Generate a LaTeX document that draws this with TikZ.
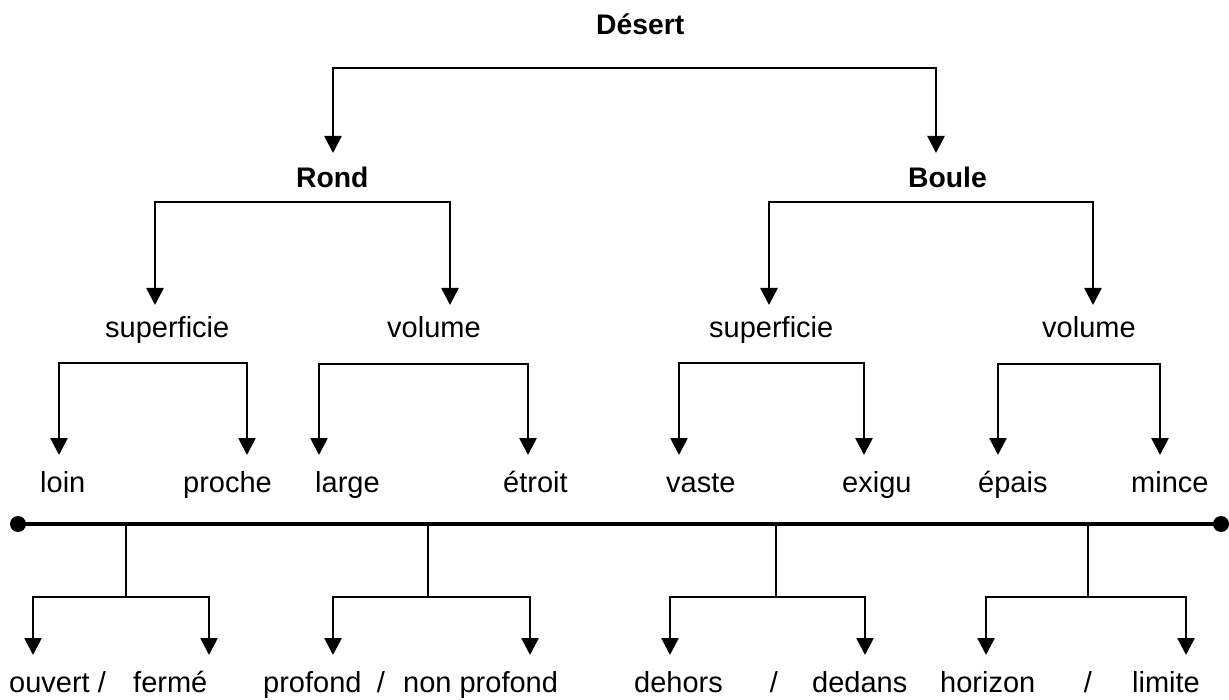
\documentclass[tikz,border=0pt]{standalone}
\usepackage{fontspec}
\setmainfont{Liberation Sans}
\usetikzlibrary{arrows.meta}
\begin{document}
\begin{tikzpicture}[x=1pt,y=-1pt,
  lbl/.style={anchor=base west,inner sep=0pt,font=\fontsize{29}{34}\selectfont},
  slash/.style={anchor=base,inner sep=0pt,font=\fontsize{29}{34}\selectfont},
  bold/.style={anchor=base west,inner sep=0pt,font=\fontsize{28.3}{34}\selectfont\bfseries},
  arr/.style={line width=2.6pt,-{Triangle[width=17pt,length=17pt]}},
  drop/.style={line width=2.5pt},
  axis/.style={line width=4.5pt},
  dot/.style={circle,fill=black,inner sep=0pt,minimum size=16pt}]
\useasboundingbox (0,0) rectangle (1229,700);

% level 0-2 labels
\node[bold] (desert) at (596,35) {Désert};
\node[bold] (rond) at (296,188) {Rond};
\node[bold] (boule) at (908,188) {Boule};
\node[lbl] (supL) at (105,338) {superficie};
\node[lbl] (volL) at (387,338) {volume};
\node[lbl] (supR) at (709,338) {superficie};
\node[lbl] (volR) at (1042,338) {volume};
% level 3 labels
\node[lbl] (loin) at (40,492) {loin};
\node[lbl] (proche) at (183,492) {proche};
\node[lbl] (large) at (315,492) {large};
\node[lbl] (etroit) at (503,492) {étroit};
\node[lbl] (vaste) at (666,492) {vaste};
\node[lbl] (exigu) at (842,492) {exigu};
\node[lbl] (epais) at (978,492) {épais};
\node[lbl] (mince) at (1131,492) {mince};
% bottom labels
\node[lbl] (ouvert) at (9,692) {ouvert /};
\node[lbl] (ferme) at (133,692) {fermé};
\node[lbl] (profond) at (263,692) {profond};
\node[slash] (s1) at (381,692) {/};
\node[lbl] (nonprofond) at (403,692) {non profond};
\node[lbl] (dehors) at (634,692) {dehors};
\node[slash] (s2) at (774,692) {/};
\node[lbl] (dedans) at (812,692) {dedans};
\node[lbl] (horizon) at (940,692) {horizon};
\node[slash] (s3) at (1088,692) {/};
\node[lbl] (limite) at (1132,692) {limite};

% bar coordinates and arrow tips
\coordinate (b0) at (634,68);
\coordinate (tRond) at (333,153);
\coordinate (tBoule) at (936,153);
\coordinate (b1) at (302,202);
\coordinate (tSupL) at (155,305);
\coordinate (tVolL) at (450,305);
\coordinate (b2) at (931,202);
\coordinate (tSupR) at (769,305);
\coordinate (tVolR) at (1093,305);
\coordinate (b3) at (153,363);
\coordinate (tLoin) at (59,455);
\coordinate (tProche) at (247,455);
\coordinate (b4) at (423,364);
\coordinate (tLarge) at (319,455);
\coordinate (tEtroit) at (528,455);
\coordinate (b5) at (771,363);
\coordinate (tVaste) at (679,455);
\coordinate (tExigu) at (864,455);
\coordinate (b6) at (1079,364);
\coordinate (tEpais) at (998,455);
\coordinate (tMince) at (1160,455);

\draw[arr] (b0) -| (tRond);
\draw[arr] (b0) -| (tBoule);
\draw[arr] (b1) -| (tSupL);
\draw[arr] (b1) -| (tVolL);
\draw[arr] (b2) -| (tSupR);
\draw[arr] (b2) -| (tVolR);
\draw[arr] (b3) -| (tLoin);
\draw[arr] (b3) -| (tProche);
\draw[arr] (b4) -| (tLarge);
\draw[arr] (b4) -| (tEtroit);
\draw[arr] (b5) -| (tVaste);
\draw[arr] (b5) -| (tExigu);
\draw[arr] (b6) -| (tEpais);
\draw[arr] (b6) -| (tMince);

% main axis
\node[dot] (dl) at (18,524) {};
\node[dot] (dr) at (1221,524) {};
\draw[axis] (dl.center) -- (dr.center);

% drops from axis
\coordinate (a1) at (126,524);
\coordinate (m1) at (126,597);
\coordinate (a2) at (428,524);
\coordinate (m2) at (428,597);
\coordinate (a3) at (776,524);
\coordinate (m3) at (776,597);
\coordinate (a4) at (1088,524);
\coordinate (m4) at (1088,597);
\coordinate (tOuv) at (33,655);
\coordinate (tFer) at (209,655);
\coordinate (tPro) at (333,655);
\coordinate (tNon) at (530,655);
\coordinate (tDeh) at (670,655);
\coordinate (tDed) at (865,655);
\coordinate (tHor) at (986,655);
\coordinate (tLim) at (1186,655);

\draw[drop] (a1) -- (m1);
\draw[drop] (a2) -- (m2);
\draw[drop] (a3) -- (m3);
\draw[drop] (a4) -- (m4);
\draw[arr] (m1) -| (tOuv);
\draw[arr] (m1) -| (tFer);
\draw[arr] (m2) -| (tPro);
\draw[arr] (m2) -| (tNon);
\draw[arr] (m3) -| (tDeh);
\draw[arr] (m3) -| (tDed);
\draw[arr] (m4) -| (tHor);
\draw[arr] (m4) -| (tLim);
\end{tikzpicture}
\end{document}
